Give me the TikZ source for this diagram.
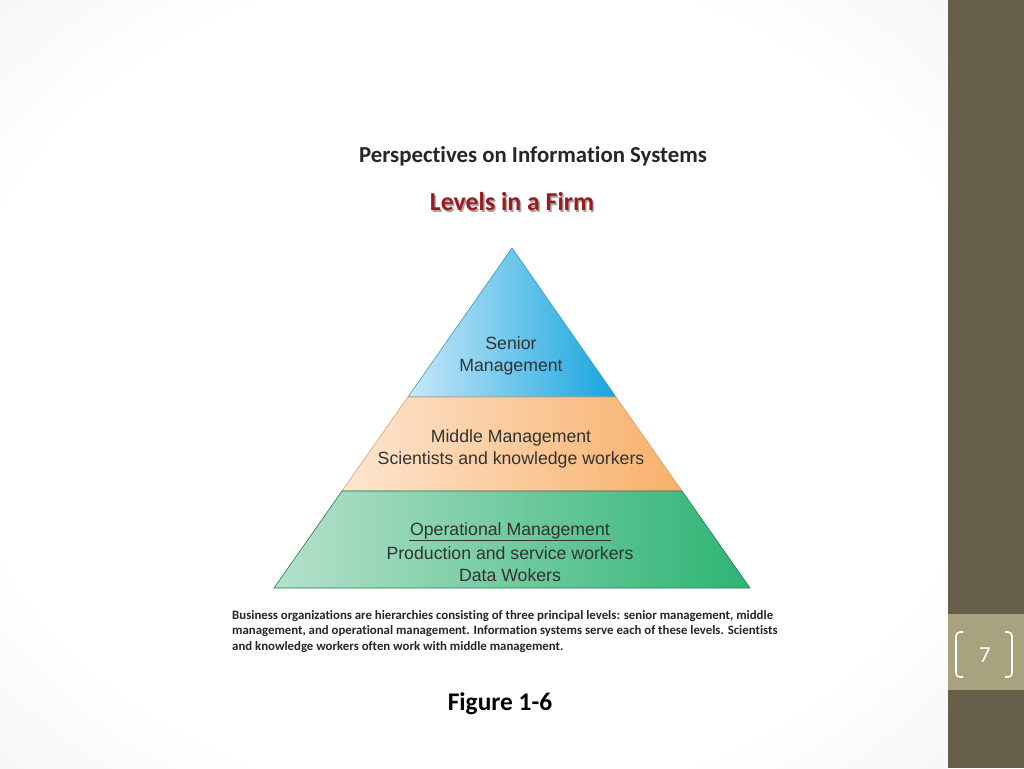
\documentclass[tikz,border=0pt]{standalone}
\usepackage{fontspec}
\setmainfont[Ligatures={NoCommon}]{Carlito}
\newfontfamily\arialf{Liberation Sans}
\usetikzlibrary{shadings}
\definecolor{barcol}{HTML}{665E48}
\definecolor{pagebox}{HTML}{A8A27F}
\definecolor{vgA}{HTML}{EBEBEB}
\definecolor{vgB}{HTML}{D4D4D4}
\definecolor{firmred}{HTML}{9A1B1E}
\definecolor{txt}{HTML}{262626}
\definecolor{pyrtxt}{HTML}{333333}
\definecolor{blueL}{HTML}{C8E8F8}
\definecolor{blueR}{HTML}{16A5DF}
\definecolor{orL}{HTML}{FDE6D0}
\definecolor{orR}{HTML}{F8B06A}
\definecolor{grL}{HTML}{B6E1CB}
\definecolor{grR}{HTML}{2DB474}
\pgfdeclareradialshading{vignette}{\pgfpoint{0bp}{0bp}}{color(0bp)=(white); color(27bp)=(white); color(47bp)=(vgA); color(70bp)=(vgB)}
\tikzset{
  band/.style={draw=#1, line width=0.6pt},
  pyr/.style={font=\arialf\fontsize{17.7}{22}\selectfont, text=pyrtxt, align=center, inner sep=0pt},
  title/.style={font=\bfseries\fontsize{22.8}{27}\selectfont, text=txt, inner sep=0pt},
}
\begin{document}
\begin{tikzpicture}[x=1pt,y=-1pt]
\useasboundingbox (0,0) rectangle (1024,768);
% background
\shade[shading=vignette] (0,0) rectangle (948,768);
\fill[barcol] (948,0) rectangle (1024,768);
\fill[pagebox] (948,614) rectangle (1024,690);
\draw[white, line width=1.6pt, rounded corners=4pt] (963,632) -- (956,632) -- (956,677) -- (963,677);
\draw[white, line width=1.6pt, rounded corners=4pt] (1005,632) -- (1012,632) -- (1012,677) -- (1005,677);
\node[font=\fontsize{23}{27}\selectfont, text=white, inner sep=0pt] (pnum) at (985,655) {7};
% titles
\node[title] (t1) at (533,156) {Perspectives on Information Systems};
\node[font=\bfseries\fontsize{25.8}{30}\selectfont, text=black!35, inner sep=0pt] (t2s) at (513.4,203.4) {Levels in a Firm};
\node[font=\bfseries\fontsize{25.8}{30}\selectfont, text=firmred, inner sep=0pt] (t2) at (512,202) {Levels in a Firm};
% pyramid
\path[band=blueR!70!gray, left color=blueL, right color=blueR] (512,248) -- (616,397) -- (408,397) -- cycle;
\path[band=orR!70!gray, left color=orL, right color=orR] (408,397) -- (616,397) -- (682,491) -- (342,491) -- cycle;
\path[band=grR!70!black, left color=grL, right color=grR] (342,491) -- (682,491) -- (750,588) -- (274,588) -- cycle;
\node[pyr] (senior) at (511,356) {Senior\\Management};
\node[pyr] (middle) at (511,449) {Middle Management\\Scientists and knowledge workers};
\node[pyr] (oper) at (510,531) {Operational Management};
\draw[pyrtxt, line width=0.8pt] ([xshift=-1pt,yshift=-1pt]oper.south west) -- ([xshift=1pt,yshift=-1pt]oper.south east);
\node[pyr] (prod) at (510,553) {Production and service workers};
\node[pyr] (data) at (510,575) {Data Wokers};
% caption
\node[anchor=north west, align=left, inner sep=0pt, text=txt, font=\bfseries\fontsize{12.8}{15.5}\selectfont] (cap) at (232,610)
 {Business organizations are hierarchies consisting of three principal levels: senior management, middle\\
  management, and operational management. Information systems serve each of these levels. Scientists\\
  and knowledge workers often work with middle management.};
\node[font=\bfseries\fontsize{25.4}{30}\selectfont, text=black, inner sep=0pt] (fig) at (500,704) {Figure 1-6};
\end{tikzpicture}
\end{document}
